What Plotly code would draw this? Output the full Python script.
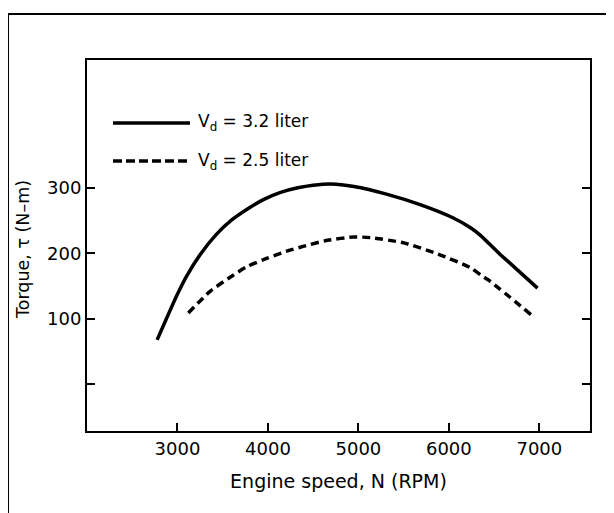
import plotly.graph_objects as go

# Data
rpm_32 = [2775, 2880, 2990, 3100, 3250, 3430, 3600, 3800, 3950, 4140, 4330, 4500, 4700,
          4950, 5320, 5690, 6050, 6240, 6352, 6570, 6684, 6980]
torque_32 = [68, 101, 135, 165, 198, 229, 251, 270, 282, 293, 300, 304, 306,
             302, 290, 274, 254, 239, 227, 198, 184, 147]
rpm_25 = [3120, 3360, 3620, 3770, 4000, 4200, 4400, 4660, 4950, 5130, 5500,
          5880, 6240, 6352, 6460, 6930]
torque_25 = [109, 142, 167, 180, 193, 203, 211, 220, 225, 224, 216,
             199, 178, 167, 157, 104]
x_ticks = [3000, 4000, 5000, 6000, 7000]
y_ticks = [100, 200, 300]
y_minor_ticks = [0]
labels = ["V<sub>d</sub> = 3.2 liter", "V<sub>d</sub> = 2.5 liter"]
x_title = "Engine speed, N (RPM)"
y_title = "Torque, τ (N–m)"

FONT = "DejaVu Sans, Liberation Sans, Arial, sans-serif"
DASH = "8px,5px"

fig = go.Figure()
fig.add_trace(go.Scatter(x=rpm_32, y=torque_32, mode="lines",
                         line=dict(color="black", width=3.5, shape="spline", smoothing=0.6),
                         showlegend=False))
fig.add_trace(go.Scatter(x=rpm_25, y=torque_25, mode="lines",
                         line=dict(color="black", width=3.5, dash=DASH, shape="spline", smoothing=0.6),
                         showlegend=False))

OFF = 8  # page body margin
W, H = 614 - OFF, 513 - OFF
L, T = 87 - OFF, 60 - OFF
R, B = W - (590 - OFF), H - (431 - OFF)
pw, ph = W - L - R, H - T - B

def px(xp):
    return (xp - OFF - L) / pw

def py(yp):
    return (H - B - (yp - OFF)) / ph

# outer frame
fig.add_shape(type="rect", xref="paper", yref="paper",
              x0=px(8), x1=px(640), y0=py(560), y1=py(14),
              line=dict(color="black", width=2), layer="below")

# legend samples
fig.add_shape(type="line", xref="paper", yref="paper",
              x0=px(113), x1=px(190), y0=py(123), y1=py(123),
              line=dict(color="black", width=3.5))
fig.add_shape(type="line", xref="paper", yref="paper",
              x0=px(113), x1=px(190), y0=py(161), y1=py(161),
              line=dict(color="black", width=3.5, dash="9px,4px"))
for lab, yy in zip(labels, [123, 161]):
    fig.add_annotation(xref="paper", yref="paper", x=px(196), y=py(yy),
                       text=lab, showarrow=False, xanchor="left", yanchor="middle",
                       font=dict(family=FONT, size=17, color="black"))

# y axis title
fig.add_annotation(xref="paper", yref="paper", x=px(23), y=py(250),
                   text=y_title, textangle=-90, showarrow=False,
                   xanchor="center", yanchor="middle",
                   font=dict(family=FONT, size=17.5, color="black"))

fig.update_layout(
    width=W, height=H,
    margin=dict(l=L, r=R, t=T, b=B),
    paper_bgcolor="white", plot_bgcolor="white",
    font=dict(family=FONT, size=16, color="black"),
    showlegend=False,
)
fig.update_xaxes(range=[2000, 7560], tickvals=x_ticks, ticks="inside", ticklen=8,
                 tickwidth=1.5, tickcolor="black", showline=True, linecolor="black",
                 linewidth=2, mirror=True, showgrid=False, zeroline=False,
                 title=dict(text=x_title, standoff=17, font=dict(size=19)),
                 tickfont=dict(size=18))
fig.update_yaxes(range=[-71, 495], tickvals=y_ticks,
                 ticks="inside", ticklen=8, tickwidth=1.5, tickcolor="black",
                 minor=dict(tickvals=y_minor_ticks, ticks="inside", ticklen=8,
                            tickwidth=1.5, tickcolor="black", showgrid=False),
                 showline=True, linecolor="black", linewidth=2, mirror="ticks",
                 showgrid=False, zeroline=False,
                 tickfont=dict(size=18))

fig.write_html("out.html")
